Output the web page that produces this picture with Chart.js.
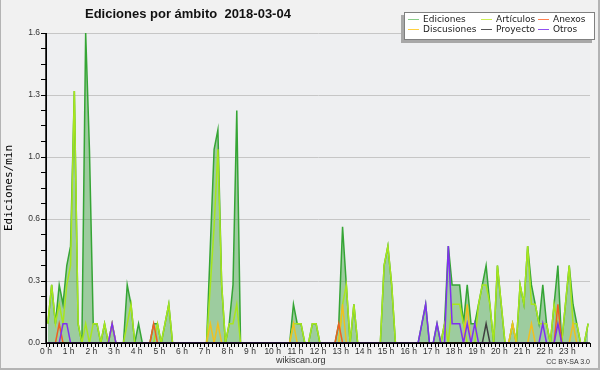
<!DOCTYPE html>
<html lang="es">
<head>
    <meta charset="UTF-8"/>
    <title>Ediciones por ámbito 2018-03-04</title>
    <script src="https://cdn.jsdelivr.net/npm/chart.js"></script>
    <style>
        html, body {
            margin: 0;
            padding: 0;
            background: #f1f1f1;
        }

        #wrap {
            position: relative;
            width: 600px;
            height: 370px;
            overflow: hidden;
        }

        #chartBox {
            position: absolute;
            left: 0;
            top: 0;
            width: 600px;
            height: 370px;
        }

        #frame {
            position: absolute;
            left: 0;
            top: 0;
            width: 600px;
            height: 370px;
            box-sizing: border-box;
            border-left: 1px solid #b4b4b4;
            border-right: 2px solid #b4b4b4;
            border-bottom: 2px solid #b4b4b4;
            pointer-events: none;
        }

        .title {
            position: absolute;
            left: 85px;
            top: 6px;
            font: bold 13px "Liberation Sans", Arial, sans-serif;
            color: #111;
            white-space: pre;
        }

        .legend {
            position: absolute;
            left: 404px;
            top: 12px;
            width: 189px;
            height: 26px;
            background: #fff;
            border: 1px solid #808080;
            box-shadow: -3px 3px 0 #a8a8a8;
        }

        .item {
            position: absolute;
            font: 9px "DejaVu Sans", sans-serif;
            line-height: 10px;
            color: #222;
            white-space: nowrap;
        }

        .item i {
            display: inline-block;
            width: 11px;
            height: 1px;
            vertical-align: middle;
            margin-right: 4px;
        }

        .foot {
            position: absolute;
            font-family: "Liberation Sans", Arial, sans-serif;
            color: #333;
            white-space: nowrap;
        }
    </style>
</head>
<body>
<div id="wrap">
    <div id="chartBox"><canvas id="chart"></canvas></div>
    <div class="title">Ediciones por ámbito  2018-03-04</div>
    <div class="legend"></div>
    <div class="item" style="left:408px;top:14px"><i style="background:#88cc88"></i>Ediciones</div>
    <div class="item" style="left:481px;top:14px"><i style="background:#ccee55"></i>Artículos</div>
    <div class="item" style="left:538px;top:14px"><i style="background:#ff8050"></i>Anexos</div>
    <div class="item" style="left:408px;top:24px"><i style="background:#ffd040"></i>Discusiones</div>
    <div class="item" style="left:481px;top:24px"><i style="background:#555"></i>Proyecto</div>
    <div class="item" style="left:538px;top:24px"><i style="background:#9050f0"></i>Otros</div>
    <div class="foot" style="left:276px;top:355px;font-size:9px">wikiscan.org</div>
    <div class="foot" style="right:10px;top:358px;font-size:7px">CC BY-SA 3.0</div>
    <div id="frame"></div>
</div>

<script>
    // 10-minute bins, values in edits per minute (one row = 4 hours)
    const slot = 10;

    const ediciones = [
        0.1, 0.3, 0.1, 0.3, 0.2, 0.4, 0.5, 1.3, 0.1, 0, 1.6, 1.0, 0.1, 0.1, 0, 0.1, 0, 0.1, 0, 0, 0, 0.3, 0.2, 0,
        0.1, 0, 0, 0, 0.1, 0.1, 0, 0.1, 0.2, 0, 0, 0, 0, 0, 0, 0, 0, 0, 0, 0.5, 1.0, 1.1, 0.3, 0,
        0.1, 0.3, 1.2, 0, 0, 0, 0, 0, 0, 0, 0, 0, 0, 0, 0, 0, 0, 0.2, 0.1, 0.1, 0, 0, 0.1, 0.1,
        0, 0, 0, 0, 0, 0.1, 0.6, 0.3, 0, 0.2, 0, 0, 0, 0, 0, 0, 0, 0.4, 0.5, 0.3, 0, 0, 0, 0,
        0, 0, 0, 0.1, 0.2, 0, 0, 0.1, 0, 0.1, 0.5, 0.3, 0.3, 0.3, 0.1, 0.3, 0.1, 0.1, 0.2, 0.3, 0.4, 0.2, 0, 0.4,
        0.2, 0, 0, 0.1, 0, 0.3, 0.2, 0.5, 0.3, 0.2, 0.1, 0.3, 0.1, 0, 0.2, 0.4, 0, 0.2, 0.4, 0.2, 0.1, 0, 0, 0.1
    ];
    const articulos = [
        0.1, 0.3, 0.1, 0.2, 0.1, 0.3, 0.4, 1.3, 0.1, 0, 0.1, 0, 0.1, 0.1, 0, 0.1, 0, 0, 0, 0, 0, 0.1, 0.2, 0,
        0, 0, 0, 0, 0, 0.1, 0, 0.1, 0.2, 0, 0, 0, 0, 0, 0, 0, 0, 0, 0, 0.3, 0.6, 1.0, 0.3, 0,
        0.1, 0.1, 0.2, 0, 0, 0, 0, 0, 0, 0, 0, 0, 0, 0, 0, 0, 0, 0.1, 0.1, 0.1, 0, 0, 0.1, 0.1,
        0, 0, 0, 0, 0, 0, 0.2, 0.3, 0, 0.2, 0, 0, 0, 0, 0, 0, 0, 0.4, 0.5, 0.3, 0, 0, 0, 0,
        0, 0, 0, 0, 0, 0, 0, 0, 0, 0.1, 0, 0.2, 0.2, 0.2, 0.1, 0, 0, 0, 0.2, 0.3, 0.3, 0.2, 0, 0.4,
        0.2, 0, 0, 0.1, 0, 0.3, 0.2, 0.5, 0.2, 0.2, 0.1, 0.1, 0.1, 0, 0.2, 0.1, 0, 0.2, 0.4, 0.1, 0.1, 0, 0, 0.1
    ];
    const anexos = [
        0, 0, 0, 0.1, 0, 0, 0, 0, 0, 0, 0, 0, 0, 0, 0, 0, 0, 0, 0, 0, 0, 0, 0, 0,
        0, 0, 0, 0, 0.1, 0, 0, 0, 0, 0, 0, 0, 0, 0, 0, 0, 0, 0, 0, 0, 0, 0, 0, 0,
        0, 0, 0, 0, 0, 0, 0, 0, 0, 0, 0, 0, 0, 0, 0, 0, 0, 0, 0, 0, 0, 0, 0, 0,
        0, 0, 0, 0, 0, 0.1, 0, 0, 0, 0, 0, 0, 0, 0, 0, 0, 0, 0, 0, 0, 0, 0, 0, 0,
        0, 0, 0, 0, 0, 0, 0, 0, 0, 0, 0, 0, 0, 0, 0, 0, 0, 0, 0, 0, 0, 0, 0, 0,
        0, 0, 0, 0, 0, 0, 0, 0, 0, 0, 0, 0, 0, 0, 0, 0.2, 0, 0, 0, 0, 0, 0, 0, 0
    ];
    const discusiones = [
        0, 0, 0, 0, 0, 0, 0, 0, 0, 0, 0, 0, 0, 0, 0, 0, 0, 0.1, 0, 0, 0, 0, 0, 0,
        0, 0, 0, 0, 0, 0, 0, 0, 0, 0, 0, 0, 0, 0, 0, 0, 0, 0, 0, 0.1, 0, 0.1, 0, 0,
        0, 0, 0, 0, 0, 0, 0, 0, 0, 0, 0, 0, 0, 0, 0, 0, 0, 0.1, 0, 0, 0, 0, 0, 0,
        0, 0, 0, 0, 0, 0, 0.2, 0, 0, 0, 0, 0, 0, 0, 0, 0, 0, 0, 0, 0, 0, 0, 0, 0,
        0, 0, 0, 0, 0, 0, 0, 0, 0, 0, 0, 0, 0, 0, 0, 0.2, 0, 0, 0, 0, 0, 0, 0, 0,
        0, 0, 0, 0.1, 0, 0, 0, 0, 0.1, 0, 0, 0, 0, 0, 0, 0, 0, 0, 0, 0.1, 0, 0, 0, 0
    ];
    const proyecto = [
        0, 0, 0, 0, 0, 0, 0, 0, 0, 0, 0, 0, 0, 0, 0, 0, 0, 0, 0, 0, 0, 0, 0, 0,
        0, 0, 0, 0, 0, 0, 0, 0, 0, 0, 0, 0, 0, 0, 0, 0, 0, 0, 0, 0, 0, 0, 0, 0,
        0, 0, 0, 0, 0, 0, 0, 0, 0, 0, 0, 0, 0, 0, 0, 0, 0, 0, 0, 0, 0, 0, 0, 0,
        0, 0, 0, 0, 0, 0, 0, 0, 0, 0, 0, 0, 0, 0, 0, 0, 0, 0, 0, 0, 0, 0, 0, 0,
        0, 0, 0, 0, 0, 0, 0, 0, 0, 0, 0, 0, 0, 0, 0, 0, 0, 0, 0, 0, 0.1, 0, 0, 0,
        0, 0, 0, 0, 0, 0, 0, 0, 0, 0, 0, 0, 0, 0, 0, 0, 0, 0, 0, 0, 0, 0, 0, 0
    ];
    const otros = [
        0, 0, 0, 0, 0.1, 0.1, 0, 0, 0, 0, 0, 0, 0, 0, 0, 0, 0, 0.1, 0, 0, 0, 0, 0, 0,
        0, 0, 0, 0, 0, 0, 0, 0, 0, 0, 0, 0, 0, 0, 0, 0, 0, 0, 0, 0, 0, 0, 0, 0,
        0, 0, 0, 0, 0, 0, 0, 0, 0, 0, 0, 0, 0, 0, 0, 0, 0, 0, 0, 0, 0, 0, 0, 0,
        0, 0, 0, 0, 0, 0, 0, 0, 0, 0, 0, 0, 0, 0, 0, 0, 0, 0, 0, 0, 0, 0, 0, 0,
        0, 0, 0, 0.1, 0.2, 0, 0, 0.1, 0, 0, 0.5, 0.1, 0.1, 0.1, 0, 0.1, 0, 0.1, 0, 0, 0, 0, 0, 0,
        0, 0, 0, 0, 0, 0, 0, 0, 0, 0, 0, 0.1, 0, 0, 0, 0.1, 0, 0, 0, 0, 0, 0, 0, 0
    ];

    // y gridlines every 0.32, minor ticks every 0.08
    const yMax = 1.6;
    const yMinor = 0.08;
    const isMajor = v => Math.round(v / yMinor) % 4 === 0;

    const points = vals => vals.map((v, i) => ({x: i * slot + slot / 2, y: v}));

    function line(label, vals, color, order, extra) {
        return Object.assign({
            label: label,
            data: points(vals),
            borderColor: color,
            borderWidth: 1.5,
            pointRadius: 0,
            tension: 0,
            fill: false,
            order: order
        }, extra || {});
    }

    const plotBg = {
        id: 'plotBg',
        beforeDraw(chart) {
            const {ctx, chartArea: a} = chart;
            ctx.save();
            ctx.fillStyle = '#eeeff1';
            ctx.fillRect(a.left, a.top, a.right - a.left, a.bottom - a.top);
            ctx.restore();
        },
        // axis lines go back on top of the zero-valued series
        afterDatasetsDraw(chart) {
            const {ctx, chartArea: a} = chart;
            ctx.save();
            ctx.strokeStyle = '#000';
            ctx.lineWidth = 1.5;
            ctx.beginPath();
            ctx.moveTo(a.left, a.top);
            ctx.lineTo(a.left, a.bottom);
            ctx.lineTo(a.right, a.bottom);
            ctx.stroke();
            ctx.restore();
        }
    };

    const tickFont = {family: 'Liberation Sans', size: 8.5};

    new Chart(document.getElementById('chart'), {
        type: 'line',
        data: {
            datasets: [
                line('Ediciones', ediciones, '#35a535', 6, {fill: 'origin', backgroundColor: 'rgba(70,165,70,0.48)'}),
                line('Artículos', articulos, '#a8e61d', 5),
                line('Discusiones', discusiones, '#f0c020', 4),
                line('Anexos', anexos, '#f06020', 3),
                line('Proyecto', proyecto, '#404040', 2),
                line('Otros', otros, '#8030f0', 1)
            ]
        },
        options: {
            responsive: true,
            maintainAspectRatio: false,
            animation: false,
            layout: {padding: {top: 33, right: 10, left: 0, bottom: 0}},
            plugins: {
                legend: {display: false},
                tooltip: {enabled: false}
            },
            scales: {
                x: {
                    type: 'linear',
                    min: 0,
                    max: 24 * 60,
                    afterFit: s => { s.height = 27; },
                    grid: {drawOnChartArea: false, tickLength: 4, tickColor: '#000'},
                    border: {color: '#000', width: 1},
                    ticks: {
                        stepSize: slot,
                        autoSkip: false,
                        maxRotation: 0,
                        padding: 0,
                        color: '#333',
                        font: tickFont,
                        callback: v => (v % 60 === 0 && v < 24 * 60) ? (v / 60) + ' h' : ''
                    }
                },
                y: {
                    min: 0,
                    max: yMax,
                    afterFit: s => { s.width = 46; },
                    grid: {
                        color: c => (c.tick && c.tick.value > 0 && isMajor(c.tick.value)) ? '#c6c6c6' : 'rgba(0,0,0,0)',
                        tickLength: 5,
                        tickColor: '#000'
                    },
                    border: {color: '#000', width: 1},
                    ticks: {
                        stepSize: yMinor,
                        autoSkip: false,
                        padding: 1,
                        color: '#333',
                        font: tickFont,
                        callback: v => isMajor(v) ? v.toFixed(1) : ''
                    },
                    title: {
                        display: true,
                        text: 'Ediciones/min',
                        color: '#000',
                        font: {family: 'DejaVu Sans Mono', size: 11},
                        padding: {top: 3, bottom: 0}
                    }
                }
            }
        },
        plugins: [plotBg]
    });
</script>
</body>
</html>
